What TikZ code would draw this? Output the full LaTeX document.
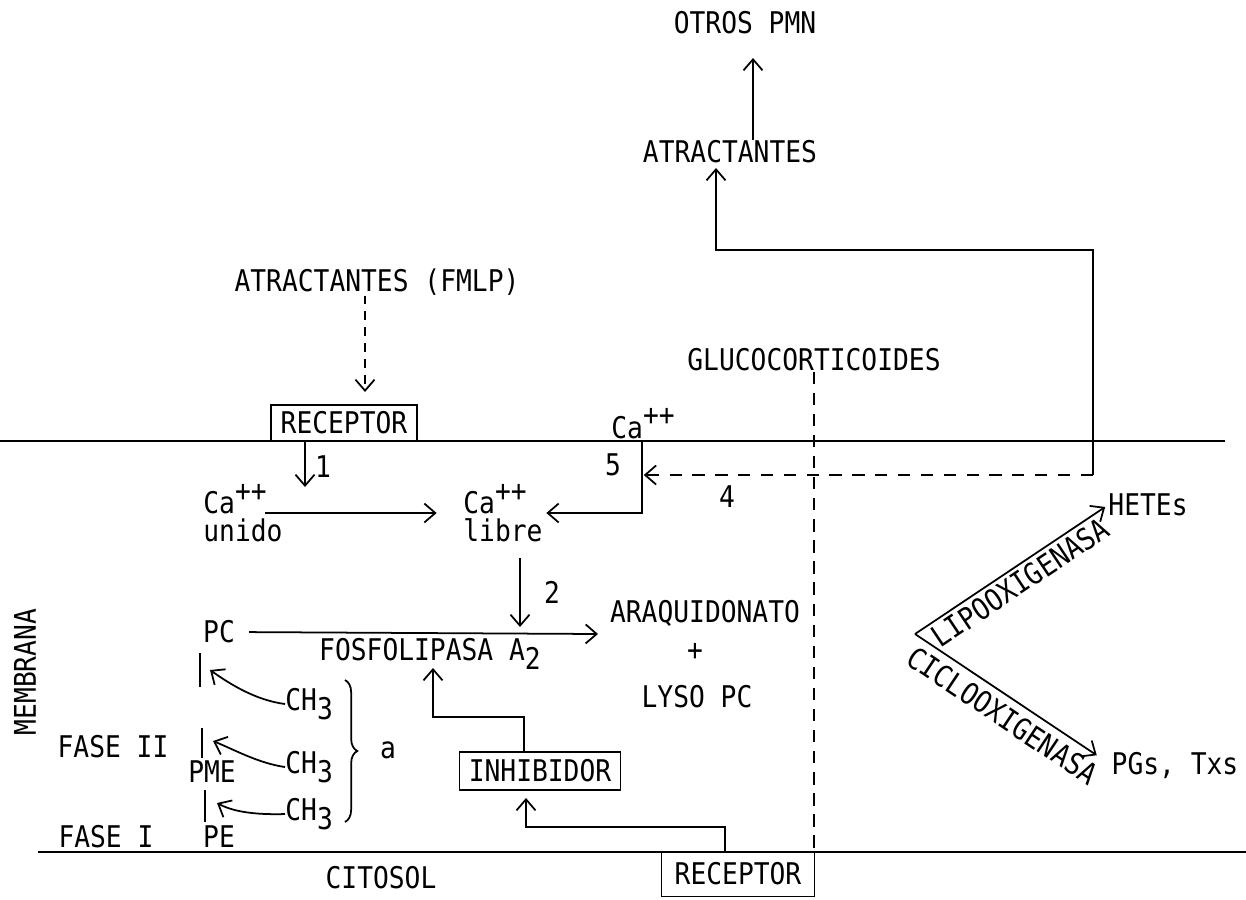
\documentclass[tikz,border=0pt]{standalone}
\usepackage{fontspec}
\setmainfont[FakeStretch=0.88]{DejaVu Sans Mono}
\usepackage{tikz}
\usetikzlibrary{arrows.meta,positioning,decorations.pathreplacing}

\newcommand{\sobre}[1]{\raisebox{0.75ex}{#1}}
\newcommand{\bajo}[1]{\raisebox{-0.6ex}{#1}}

\begin{document}
\begin{tikzpicture}[
	x=0.02cm, y=-0.02cm,
	font=\fontsize{17}{16}\selectfont,
	>={Straight Barb[length=2.2mm,width=3.8mm]},
	texto/.style={inner sep=0pt},
	caja/.style={draw, line width=0.9pt, inner sep=0pt},
	flecha/.style={->, line width=1pt},
	discont/.style={line width=1pt, dash pattern=on 7pt off 5pt},
	membr/.style={line width=0.9pt},
	raya/.style={line width=1pt},
	llave/.style={decorate, decoration={brace, amplitude=7pt}, line width=1pt},
]
\useasboundingbox (0,0) rectangle (1246,899);

% textos de arriba
\node[texto] (otros) at (745,23) {OTROS PMN};
\node[texto] (atract) at (730,152) {ATRACTANTES};
\node[texto] (fmlp) at (377,282) {ATRACTANTES (FMLP)};
\node[texto] (gluco) at (814,360) {GLUCOCORTICOIDES};

% membrana
\draw[membr] (0,441) -- (1225,441);
\draw[membr] (38,852) -- (1246,852);
\node[texto, rotate=90] (membrana) at (25,672) {MEMBRANA};
\node[texto] (citosol) at (381,878) {CITOSOL};

\node[caja, minimum width=2.92cm, minimum height=0.72cm] (recep1) at (344,423) {RECEPTOR};
\node[texto, anchor=base west] (caext) at (611,438) {Ca\sobre{++}};
\node[texto, align=left, anchor=west] (unido) at (203,513) {Ca\sobre{++}\\unido};
\node[texto, align=left, anchor=west] (libre) at (463,513) {Ca\sobre{++}\\libre};

\node[texto] (n1) at (323,467) {1};
\node[texto] (n5) at (613,465) {5};
\node[texto] (n4) at (727,497) {4};
\node[texto] (n2) at (552,592) {2};

\node[texto] (pc) at (219,632) {PC};
\node[texto, anchor=base] (fosfo) at (430,660) {FOSFOLIPASA A\bajo{2}};
\node[texto] (araq) at (705,613) {ARAQUIDONATO};
\node[texto] (mas) at (695,652) {+};
\node[texto] (lyso) at (697,697) {LYSO PC};

\node[caja, minimum width=3.22cm, minimum height=0.76cm] (inhib) at (540,771) {INHIBIDOR};
\node[caja, minimum width=3.06cm, minimum height=0.9cm] (recep2) at (738,874) {RECEPTOR};

% fases
\node[texto] (fase2) at (113,747) {FASE II};
\node[texto] (fase1) at (106,837) {FASE I};
\node[texto] (pme) at (212,772) {PME};
\node[texto] (pe) at (219,837) {PE};
\node[texto, anchor=base west] (ch1) at (285,710) {CH\bajo{3}};
\node[texto, anchor=base west] (ch2) at (285,773) {CH\bajo{3}};
\node[texto, anchor=base west] (ch3) at (285,820) {CH\bajo{3}};
\node[texto] (a) at (388,750) {a};

% derecha
\node[texto] (hetes) at (1148,505) {HETEs};
\node[texto] (pgs) at (1175,765) {PGs, Txs};

\coordinate (o2) at (753,58);
\coordinate (c0) at (365,392);
\coordinate (c1) at (305,487);
\coordinate (c2a) at (520,558);
\coordinate (c2b) at (520,627);
\coordinate (pcfin) at (598,634);
\coordinate (mem5) at (642,441);
\coordinate (d1) at (1093,475);
\coordinate (d2) at (1093,250);
\coordinate (d3) at (716,168);
\coordinate (inh1) at (524,717);
\coordinate (inh2) at (433,668);
\coordinate (rec1) at (725,827);
\coordinate (inh3) at (526,798);
\coordinate (bif) at (915,634);
\coordinate (t1) at (210,670);
\coordinate (t2) at (213,741);
\coordinate (t3) at (217,803);

\draw[flecha] (atract.north -| o2) -- (o2);
\draw[flecha] (d1) -- (d2) -| (d3);
\draw[flecha, dash pattern=on 7pt off 6pt, shorten >=1pt] (d1) -- (mem5 |- d1);
\draw[flecha, shorten >=2pt] (mem5) |- (libre.east);
\draw[flecha, shorten <=-10pt, shorten >=15pt] (unido.east) -- (libre.west);
\draw[flecha, dash pattern=on 5pt off 4pt] (fmlp.south -| c0) -- (c0);
\draw[flecha] (recep1.south -| c1) -- (c1);
\draw[flecha] (c2a) -- (c2b);
\draw[flecha, shorten <=8pt] (pc.east) -- (pcfin);
\draw[flecha] (inhib.north -| inh1) -- (inh1) -| (inh2);
\draw[flecha] (recep2.north -| rec1) -- (rec1) -| (inh3);
\draw[discont] (gluco.south) -- (gluco.south |- recep2.north);

% metilaciones
\draw[raya] (200,653) -- (200,687);
\draw[raya] (202,728) -- (202,758);
\draw[raya] (205,790) -- (205,822);
\draw[flecha] (ch1.west) .. controls (255,700) and (230,684) .. (t1);
\draw[flecha] (ch2.west) .. controls (258,763) and (235,750) .. (t2);
\draw[flecha] (ch3.west) .. controls (252,815) and (232,811) .. (t3);
\draw[llave] (345,680) -- (345,822);

\draw[flecha, shorten >=2pt] (bif) -- (hetes.west) node[midway, sloped, below, inner sep=2pt] {LIPOOXIGENASA};
\draw[flecha, shorten >=10pt] (bif) -- (pgs.west) node[midway, sloped, below, inner sep=4pt] {CICLOOXIGENASA};
\end{tikzpicture}
\end{document}
